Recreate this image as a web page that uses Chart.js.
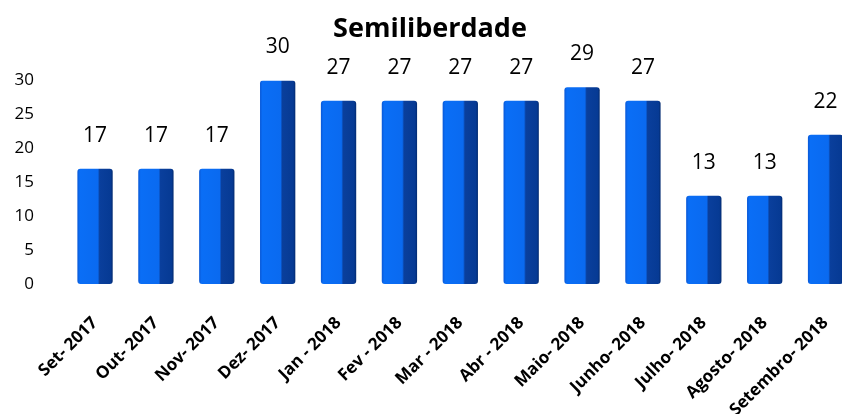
<!DOCTYPE html>
<html>
<head>
<meta charset="utf-8">
<script src="https://cdn.jsdelivr.net/npm/chart.js@4.4.0/dist/chart.umd.min.js"></script>
<style>
  html, body { margin: 0; padding: 0; background: #fff; overflow: hidden; }
  #wrap { position: absolute; left: 0; top: 0; width: 860px; height: 414px; }
</style>
</head>
<body>
<div id="wrap"><canvas id="myChart"></canvas></div>
<script>
// dados
var meses = ["Set- 2017", "Out- 2017", "Nov- 2017", "Dez- 2017", "Jan - 2018", "Fev - 2018",
  "Mar - 2018", "Abr - 2018", "Maio- 2018", "Junho- 2018", "Julho- 2018", "Agosto- 2018", "Setembro- 2018"];
var valores = [17, 17, 17, 30, 27, 27, 27, 27, 29, 27, 13, 13, 22];
var yTicks = [0, 5, 10, 15, 20, 25, 30];

var BAR_PCT = 0.58;

// cilindro: gradiente horizontal por barra, calculado pela escala x
function corCilindro(c) {
  var xs = c.chart.scales.x;
  if (!xs || c.dataIndex === undefined) return '#0a6cf5';
  var cx = xs.getPixelForValue(c.dataIndex);
  var w = (xs.width / meses.length) * BAR_PCT;
  if (!isFinite(cx) || !isFinite(w) || w <= 0) return '#0a6cf5';
  var g = c.chart.ctx.createLinearGradient(cx - w / 2, 0, cx + w / 2, 0);
  g.addColorStop(0, '#0a58d6');
  g.addColorStop(0.07, '#0a6ef6');
  g.addColorStop(0.58, '#0a6af0');
  g.addColorStop(0.63, '#0a3f9c');
  g.addColorStop(0.94, '#063a94');
  g.addColorStop(1, '#022a70');
  return g;
}

// rotulos em cima das barras
var rotulos = {
  id: 'rotulos',
  afterDatasetsDraw: function(chart) {
    var ctx = chart.ctx;
    ctx.save();
    ctx.font = '21px "Open Sans"';
    ctx.fillStyle = '#000';
    ctx.textAlign = 'center';
    ctx.textBaseline = 'middle';
    chart.getDatasetMeta(0).data.forEach(function(bar, i) {
      ctx.fillText(String(valores[i]), bar.x, bar.y - 33);
    });
    ctx.restore();
  }
};

var chart = new Chart(document.getElementById('myChart').getContext('2d'), {
  type: 'bar',
  data: {
    labels: meses,
    datasets: [{
      data: valores,
      backgroundColor: corCilindro,
      borderRadius: 3,
      borderSkipped: false,
      barPercentage: BAR_PCT,
      categoryPercentage: 1
    }]
  },
  options: {
    responsive: true,
    maintainAspectRatio: false,
    animation: false,
    layout: { padding: { left: 4, right: 4, top: 0, bottom: 0 } },
    plugins: {
      legend: { display: false },
      tooltip: { enabled: false },
      title: {
        display: true,
        text: 'Semiliberdade',
        color: '#000',
        font: { family: 'Open Sans', size: 27, weight: 'bold', lineHeight: 1.2 },
        padding: { top: 13, bottom: 35 }
      }
    },
    scales: {
      y: {
        min: 0,
        max: 30,
        afterBuildTicks: function(axis) {
          axis.ticks = yTicks.map(function(v) { return { value: v }; });
        },
        afterFit: function(axis) { axis.width = 60.6; },
        grid: { display: false },
        border: { display: false },
        ticks: {
          color: '#000',
          padding: 22.6,
          font: { family: 'Open Sans', size: 17 }
        }
      },
      x: {
        afterFit: function(axis) {
          axis.paddingLeft = 0;
          axis.paddingRight = 0;
          axis.height = 130;
        },
        grid: { display: false },
        border: { display: false },
        ticks: {
          color: '#000',
          minRotation: 45,
          maxRotation: 45,
          padding: 21,
          font: { family: 'Open Sans', size: 17, weight: 'bold' }
        }
      }
    }
  },
  plugins: [rotulos]
});
</script>
</body>
</html>
